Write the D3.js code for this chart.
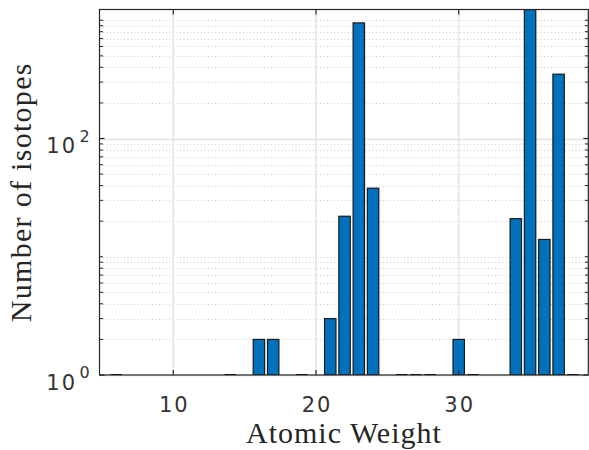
<!DOCTYPE html>
<html>
<head>
<meta charset="utf-8">
<script src="https://cdn.jsdelivr.net/npm/d3@7"></script>
<style>
  html, body { margin: 0; padding: 0; background: #ffffff; }
  svg { display: block; }
</style>
</head>
<body>
<svg id="chart" width="589" height="450"></svg>
<script>
// ---- data ----
const atomicWeights = [6, 14, 16, 17, 19, 21, 22, 23, 24, 26, 27, 28, 30, 31, 34, 35, 36, 37, 38];
const isotopeCounts = [1, 1, 2, 2, 1, 3, 22, 950, 38, 1, 1, 1, 2, 1, 21, 1233, 14, 350, 1];
const xTickValues = [10, 20, 30];
const yTickValues = [1, 100];
const yTickExponents = ["0", "2"];
const xLabel = "Atomic Weight";
const yLabel = "Number of isotopes";

(function () {
// ---- layout ----
const W = 589, H = 450;
const pL = 99.5, pR = 588.3, pT = 9.5, pB = 375;
const barColor = "#0072BD";
const axisColor = "#262626";

const svg = d3.select("#chart");
svg.append("rect").attr("width", W).attr("height", H).attr("fill", "#fff");

const x = d3.scaleLinear().domain([4.83, 39.08]).range([pL, pR]);
const y = d3.scaleLog().domain([1, d3.max(isotopeCounts)]).range([pB, pT]);

svg.append("defs").append("clipPath").attr("id", "plotclip")
  .append("rect").attr("x", pL).attr("y", pT)
  .attr("width", pR - pL).attr("height", pB - pT);

// ---- grid ----
const grid = svg.append("g");
const minorVals = [];
const d1 = y.domain()[1];
for (let e = 0; Math.pow(10, e) <= d1; e++) {
  for (let m = 2; m <= 10; m++) {
    const v = m * Math.pow(10, e);
    if (v <= d1 && !yTickValues.includes(v)) minorVals.push(v);
  }
}
grid.selectAll("line.minor").data(minorVals).enter().append("line")
  .attr("x1", pL).attr("x2", pR)
  .attr("y1", d => Math.round(y(d)) + 0.5).attr("y2", d => Math.round(y(d)) + 0.5)
  .attr("stroke", "#cdcdcd").attr("stroke-width", 1).attr("stroke-dasharray", "1,2.5");
grid.selectAll("line.ymaj").data(yTickValues).enter().append("line")
  .attr("x1", pL).attr("x2", pR)
  .attr("y1", d => Math.round(y(d)) + 0.5).attr("y2", d => Math.round(y(d)) + 0.5)
  .attr("stroke", "#e3e3e3").attr("stroke-width", 1.5);
grid.selectAll("line.xmaj").data(xTickValues).enter().append("line")
  .attr("x1", d => x(d)).attr("x2", d => x(d))
  .attr("y1", pT).attr("y2", pB)
  .attr("stroke", "#e3e3e3").attr("stroke-width", 1.5);

// ---- bars ----
const barW = x(0.8) - x(0);
const data = atomicWeights.map((w, i) => ({ w, c: isotopeCounts[i] }));
const bars = svg.append("g").attr("clip-path", "url(#plotclip)");
bars.selectAll("rect").data(data.filter(d => d.c > 1)).enter().append("rect")
  .attr("x", d => x(d.w - 0.4))
  .attr("y", d => y(d.c))
  .attr("width", barW)
  .attr("height", d => y(1) - y(d.c))
  .attr("fill", barColor)
  .attr("stroke", "#1a1a1a")
  .attr("stroke-width", 1.2);
bars.selectAll("line").data(data.filter(d => d.c <= 1)).enter().append("line")
  .attr("x1", d => x(d.w - 0.4)).attr("x2", d => x(d.w + 0.4))
  .attr("y1", d => y(d.c)).attr("y2", d => y(d.c))
  .attr("stroke", "#000").attr("stroke-width", 2);

// ---- axes box & ticks ----
const ax = svg.append("g").attr("stroke", axisColor).attr("fill", "none");
ax.append("rect").attr("x", pL).attr("y", pT)
  .attr("width", pR - pL).attr("height", pB - pT)
  .attr("stroke-width", 1.2);
const majLen = 5, minLen = 3.5;
xTickValues.forEach(v => {
  ax.append("line").attr("x1", x(v)).attr("x2", x(v)).attr("y1", pB).attr("y2", pB - majLen).attr("stroke-width", 1.2);
  ax.append("line").attr("x1", x(v)).attr("x2", x(v)).attr("y1", pT).attr("y2", pT + majLen).attr("stroke-width", 1.2);
});
yTickValues.forEach(v => {
  ax.append("line").attr("x1", pL).attr("x2", pL + majLen).attr("y1", y(v)).attr("y2", y(v)).attr("stroke-width", 1.2);
  ax.append("line").attr("x1", pR).attr("x2", pR - majLen).attr("y1", y(v)).attr("y2", y(v)).attr("stroke-width", 1.2);
});
minorVals.forEach(v => {
  ax.append("line").attr("x1", pL).attr("x2", pL + minLen).attr("y1", y(v)).attr("y2", y(v)).attr("stroke-width", 1);
  ax.append("line").attr("x1", pR).attr("x2", pR - minLen).attr("y1", y(v)).attr("y2", y(v)).attr("stroke-width", 1);
});

// ---- tick labels ----
const lab = svg.append("g").attr("fill", "#333333").attr("font-family", "DejaVu Sans, sans-serif");
lab.selectAll("text.xt").data(xTickValues).enter().append("text")
  .attr("x", d => x(d) + 1).attr("y", 412)
  .attr("text-anchor", "middle").attr("font-size", 21)
  .attr("letter-spacing", "2px")
  .text(d => d);
yTickValues.forEach((v, i) => {
  lab.append("text").attr("x", 77).attr("y", y(v) + 14.5)
    .attr("text-anchor", "end").attr("font-size", 21).attr("letter-spacing", "2px").text("10");
  lab.append("text").attr("x", 79.5).attr("y", y(v) + 3)
    .attr("text-anchor", "start").attr("font-size", 16).text(yTickExponents[i]);
});

// ---- axis labels ----
svg.append("text")
  .attr("x", (pL + pR) / 2).attr("y", 443)
  .attr("text-anchor", "middle")
  .attr("font-family", "Liberation Serif, serif").attr("font-size", 30)
  .attr("letter-spacing", "1px")
  .attr("fill", axisColor).text(xLabel);
svg.append("text")
  .attr("transform", `translate(31,${(pT + pB) / 2}) rotate(-90)`)
  .attr("text-anchor", "middle")
  .attr("font-family", "Liberation Serif, serif").attr("font-size", 30)
  .attr("letter-spacing", "1.3px")
  .attr("fill", axisColor).text(yLabel);
})();
</script>
</body>
</html>
